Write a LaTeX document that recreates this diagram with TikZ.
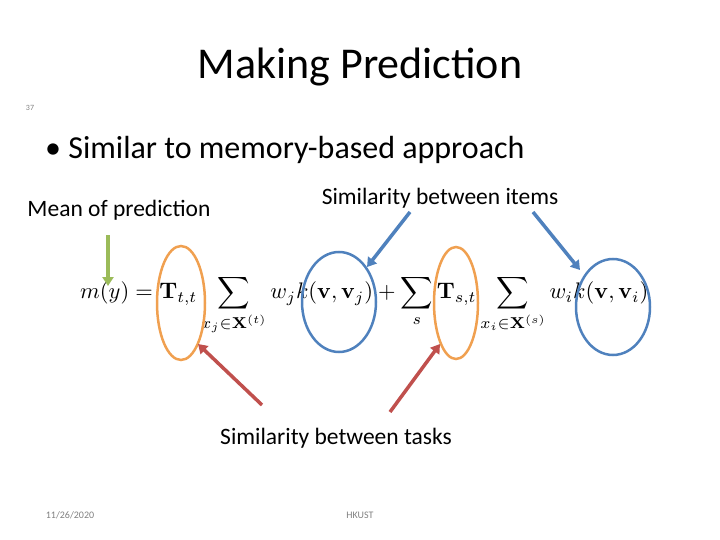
\documentclass[tikz,border=0pt]{standalone}
\usepackage[no-math]{fontspec}
\usepackage{amsmath,graphicx}
\usetikzlibrary{arrows.meta}
\setmainfont{Carlito}
\definecolor{oorange}{HTML}{F0A050}
\definecolor{oblue}{HTML}{4F81BD}
\definecolor{ored}{HTML}{C0504D}
\definecolor{ogreen}{HTML}{9BBB59}
\begin{document}
\begin{tikzpicture}[x=1pt,y=-1pt,
  lbl/.style={inner sep=0pt,font=\fontsize{23.5}{27}\selectfont},
  orng/.style={draw=oorange,line width=2.5pt},
  blu/.style={draw=oblue,line width=2.5pt},
  garr/.style={draw=ogreen,line width=3.5pt,-{Triangle[length=9pt,width=11pt]}},
  barr/.style={draw=oblue,line width=3.5pt,-{Triangle[length=9pt,width=11pt]}},
  rarr/.style={draw=ored,line width=3.5pt,-{Triangle[length=9pt,width=11pt]}}]
\useasboundingbox (0,0) rectangle (720,540);
\node[inner sep=0pt,font=\fontsize{44}{50}\selectfont] (title) at (360,67) {Making Prediction};
\node[inner sep=0pt,font=\fontsize{8}{10}\selectfont,text=gray] (num) at (30,108) {37};
\node[inner sep=0pt,anchor=west,font=\fontsize{32}{36}\selectfont] (bul) at (45,150) {\textbullet\ Similar to memory-based approach};
\node[lbl] (mean) at (119,210) {Mean of prediction};
\node[lbl] (items) at (440,198) {Similarity between items};
\node[lbl] (tasks) at (336,438) {Similarity between tasks};
\node[inner sep=0pt,font=\fontsize{10}{12}\selectfont,text=gray] (date) at (70,515) {11/26/2020};
\node[inner sep=0pt,font=\fontsize{10}{12}\selectfont,text=gray] (hk) at (360,515) {HKUST};
\node[inner sep=0pt,anchor=west] (f) at (80,305) {\resizebox{568pt}{!}{$\displaystyle m(y)=\mathbf{T}_{t,t}\sum_{x_j\in\mathbf{X}^{(t)}} w_jk(\mathbf{v},\mathbf{v}_j)+\sum_s\mathbf{T}_{s,t}\sum_{x_i\in\mathbf{X}^{(s)}} w_ik(\mathbf{v},\mathbf{v}_i)$}};
\draw[orng] (181,303) ellipse [x radius=24,y radius=57];
\draw[blu] (339,302) ellipse [x radius=37,y radius=50];
\draw[orng] (456,303) ellipse [x radius=22,y radius=56];
\draw[blu] (613,307) ellipse [x radius=37,y radius=48];
\coordinate (g1) at (108,235); \coordinate (g2) at (108,286);
\coordinate (b1) at (410,212); \coordinate (b2) at (367,267);
\coordinate (b3) at (533,212); \coordinate (b4) at (580,270);
\coordinate (r1) at (262,405); \coordinate (r2) at (198,344);
\coordinate (r3) at (390,412); \coordinate (r4) at (440,344);
\draw[garr] (g1) -- (g2);
\draw[barr] (b1) -- (b2);
\draw[barr] (b3) -- (b4);
\draw[rarr] (r1) -- (r2);
\draw[rarr] (r3) -- (r4);
\end{tikzpicture}
\end{document}
